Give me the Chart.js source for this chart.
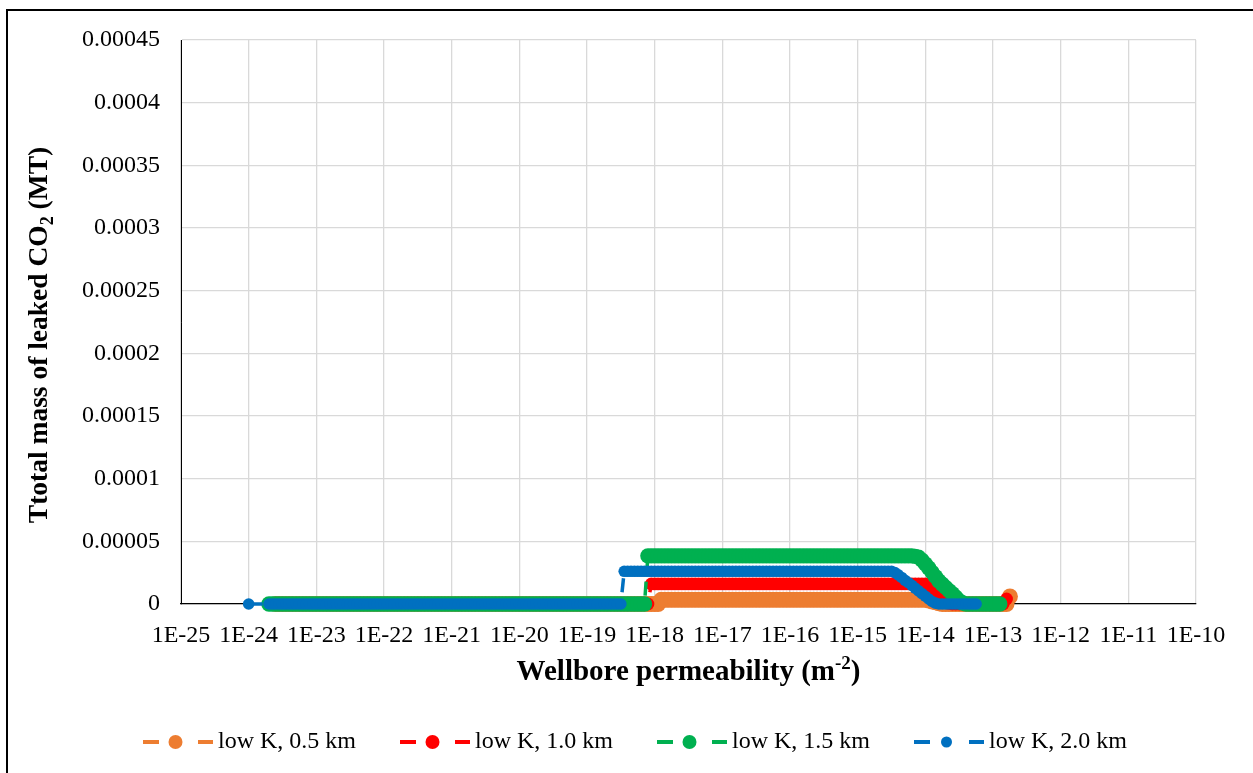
<!DOCTYPE html>
<html>
<head>
<meta charset="utf-8">
<script src="https://cdn.jsdelivr.net/npm/chart.js@4.4.1/dist/chart.umd.min.js"></script>
<style>
  html, body { margin: 0; padding: 0; background: #fff; overflow: hidden; width: 1253px; height: 773px; }
  #frame { position: absolute; left: 6px; top: 9px; width: 1263px; height: 772px; border: 2px solid #000; background: #fff; }
  #frame canvas { display: block; }
</style>
</head>
<body>
<div id="frame"><canvas id="chart" width="1263" height="772"></canvas></div>
<script>
// Wellbore permeability sweep, as log10(k) in m^2 (one row per decade)
const logPermeability = [
  -24.00, -23.95, -23.90, -23.85, -23.80, -23.75, -23.70, -23.65, -23.60, -23.55, -23.50, -23.45, -23.40, -23.35, -23.30, -23.25, -23.20, -23.15, -23.10, -23.05,
  -23.00, -22.95, -22.90, -22.85, -22.80, -22.75, -22.70, -22.65, -22.60, -22.55, -22.50, -22.45, -22.40, -22.35, -22.30, -22.25, -22.20, -22.15, -22.10, -22.05,
  -22.00, -21.95, -21.90, -21.85, -21.80, -21.75, -21.70, -21.65, -21.60, -21.55, -21.50, -21.45, -21.40, -21.35, -21.30, -21.25, -21.20, -21.15, -21.10, -21.05,
  -21.00, -20.95, -20.90, -20.85, -20.80, -20.75, -20.70, -20.65, -20.60, -20.55, -20.50, -20.45, -20.40, -20.35, -20.30, -20.25, -20.20, -20.15, -20.10, -20.05,
  -20.00, -19.95, -19.90, -19.85, -19.80, -19.75, -19.70, -19.65, -19.60, -19.55, -19.50, -19.45, -19.40, -19.35, -19.30, -19.25, -19.20, -19.15, -19.10, -19.05,
  -19.00, -18.95, -18.90, -18.85, -18.80, -18.75, -18.70, -18.65, -18.60, -18.55, -18.50, -18.45, -18.40, -18.35, -18.30, -18.25, -18.20, -18.15, -18.10, -18.05,
  -18.00, -17.95, -17.90, -17.85, -17.80, -17.75, -17.70, -17.65, -17.60, -17.55, -17.50, -17.45, -17.40, -17.35, -17.30, -17.25, -17.20, -17.15, -17.10, -17.05,
  -17.00, -16.95, -16.90, -16.85, -16.80, -16.75, -16.70, -16.65, -16.60, -16.55, -16.50, -16.45, -16.40, -16.35, -16.30, -16.25, -16.20, -16.15, -16.10, -16.05,
  -16.00, -15.95, -15.90, -15.85, -15.80, -15.75, -15.70, -15.65, -15.60, -15.55, -15.50, -15.45, -15.40, -15.35, -15.30, -15.25, -15.20, -15.15, -15.10, -15.05,
  -15.00, -14.95, -14.90, -14.85, -14.80, -14.75, -14.70, -14.65, -14.60, -14.55, -14.50, -14.45, -14.40, -14.35, -14.30, -14.25, -14.20, -14.15, -14.10, -14.05,
  -14.00, -13.95, -13.90, -13.85, -13.80, -13.75, -13.70, -13.65, -13.60, -13.55, -13.50, -13.45, -13.40, -13.35, -13.30, -13.25, -13.20, -13.15, -13.10, -13.05,
  -13.00, -12.95, -12.90, -12.85, -12.80, -12.75
];

// Total mass of leaked CO2 (MT), aligned with logPermeability (null = not simulated)
const mass05km = [
  null, null, null, null, null, null, null, null, 0, 0, 0, 0, 0, 0, 0, 0, 0, 0, 0, 0,
  0, 0, 0, 0, 0, 0, 0, 0, 0, 0, 0, 0, 0, 0, 0, 0, 0, 0, 0, 0,
  0, 0, 0, 0, 0, 0, 0, 0, 0, 0, 0, 0, 0, 0, 0, 0, 0, 0, 0, 0,
  0, 0, 0, 0, 0, 0, 0, 0, 0, 0, 0, 0, 0, 0, 0, 0, 0, 0, 0, 0,
  0, 0, 0, 0, 0, 0, 0, 0, 0, 0, 0, 0, 0, 0, 0, 0, 0, 0, 0, 0,
  0, 0, 0, 0, 0, 0, 0, 0, 0, 0, 0, 0, 0, 0, 0, 0, 0, 0, 0, 0,
  0, 0, 3.4e-6, 3.4e-6, 3.4e-6, 3.4e-6, 3.4e-6, 3.4e-6, 3.4e-6, 3.4e-6, 3.4e-6, 3.4e-6, 3.4e-6, 3.4e-6, 3.4e-6, 3.4e-6, 3.4e-6, 3.4e-6, 3.4e-6, 3.4e-6,
  3.4e-6, 3.4e-6, 3.4e-6, 3.4e-6, 3.4e-6, 3.4e-6, 3.4e-6, 3.4e-6, 3.4e-6, 3.4e-6, 3.4e-6, 3.4e-6, 3.4e-6, 3.4e-6, 3.4e-6, 3.4e-6, 3.4e-6, 3.4e-6, 3.4e-6, 3.4e-6,
  3.4e-6, 3.4e-6, 3.4e-6, 3.4e-6, 3.4e-6, 3.4e-6, 3.4e-6, 3.4e-6, 3.4e-6, 3.4e-6, 3.4e-6, 3.4e-6, 3.4e-6, 3.4e-6, 3.4e-6, 3.4e-6, 3.4e-6, 3.4e-6, 3.4e-6, 3.4e-6,
  3.4e-6, 3.4e-6, 3.4e-6, 3.4e-6, 3.4e-6, 3.4e-6, 3.4e-6, 3.4e-6, 3.4e-6, 3.4e-6, 3.4e-6, 3.4e-6, 3.4e-6, 3.4e-6, 3.4e-6, 3.4e-6, 3.4e-6, 3.4e-6, 3.4e-6, 3.4e-6,
  3.4e-6, 2.7e-6, 2.0e-6, 1.3e-6, 6e-7, 0, 0, 0, 0, 0, 0, 0, 0, 0, 0, 0, 0, 0, 0, 0,
  0, 0, 0, 0, 0, 6e-6
];

const mass10km = [
  null, null, null, null, null, null, null, null, 0, 0, 0, 0, 0, 0, 0, 0, 0, 0, 0, 0,
  0, 0, 0, 0, 0, 0, 0, 0, 0, 0, 0, 0, 0, 0, 0, 0, 0, 0, 0, 0,
  0, 0, 0, 0, 0, 0, 0, 0, 0, 0, 0, 0, 0, 0, 0, 0, 0, 0, 0, 0,
  0, 0, 0, 0, 0, 0, 0, 0, 0, 0, 0, 0, 0, 0, 0, 0, 0, 0, 0, 0,
  0, 0, 0, 0, 0, 0, 0, 0, 0, 0, 0, 0, 0, 0, 0, 0, 0, 0, 0, 0,
  0, 0, 0, 0, 0, 0, 0, 0, 0, 0, 0, 0, 0, 0, 0, 0, 0, 0, 0, 1.6e-5,
  1.6e-5, 1.6e-5, 1.6e-5, 1.6e-5, 1.6e-5, 1.6e-5, 1.6e-5, 1.6e-5, 1.6e-5, 1.6e-5, 1.6e-5, 1.6e-5, 1.6e-5, 1.6e-5, 1.6e-5, 1.6e-5, 1.6e-5, 1.6e-5, 1.6e-5, 1.6e-5,
  1.6e-5, 1.6e-5, 1.6e-5, 1.6e-5, 1.6e-5, 1.6e-5, 1.6e-5, 1.6e-5, 1.6e-5, 1.6e-5, 1.6e-5, 1.6e-5, 1.6e-5, 1.6e-5, 1.6e-5, 1.6e-5, 1.6e-5, 1.6e-5, 1.6e-5, 1.6e-5,
  1.6e-5, 1.6e-5, 1.6e-5, 1.6e-5, 1.6e-5, 1.6e-5, 1.6e-5, 1.6e-5, 1.6e-5, 1.6e-5, 1.6e-5, 1.6e-5, 1.6e-5, 1.6e-5, 1.6e-5, 1.6e-5, 1.6e-5, 1.6e-5, 1.6e-5, 1.6e-5,
  1.6e-5, 1.6e-5, 1.6e-5, 1.6e-5, 1.6e-5, 1.6e-5, 1.6e-5, 1.6e-5, 1.6e-5, 1.6e-5, 1.6e-5, 1.6e-5, 1.6e-5, 1.6e-5, 1.6e-5, 1.6e-5, 1.6e-5, 1.6e-5, 1.6e-5, 1.6e-5,
  1.6e-5, 1.33e-5, 1.05e-5, 8e-6, 5.5e-6, 3.4e-6, 1.6e-6, 5e-7, 0, 0, 0, 0, 0, 0, 0, 0, 0, 0, 0, 0,
  0, 0, 0, 0, 4e-6, null
];

const mass15km = [
  null, null, null, null, null, null, 0, 0, 0, 0, 0, 0, 0, 0, 0, 0, 0, 0, 0, 0,
  0, 0, 0, 0, 0, 0, 0, 0, 0, 0, 0, 0, 0, 0, 0, 0, 0, 0, 0, 0,
  0, 0, 0, 0, 0, 0, 0, 0, 0, 0, 0, 0, 0, 0, 0, 0, 0, 0, 0, 0,
  0, 0, 0, 0, 0, 0, 0, 0, 0, 0, 0, 0, 0, 0, 0, 0, 0, 0, 0, 0,
  0, 0, 0, 0, 0, 0, 0, 0, 0, 0, 0, 0, 0, 0, 0, 0, 0, 0, 0, 0,
  0, 0, 0, 0, 0, 0, 0, 0, 0, 0, 0, 0, 0, 0, 0, 0, 0, 0, 3.84e-5, 3.84e-5,
  3.84e-5, 3.84e-5, 3.84e-5, 3.84e-5, 3.84e-5, 3.84e-5, 3.84e-5, 3.84e-5, 3.84e-5, 3.84e-5, 3.84e-5, 3.84e-5, 3.84e-5, 3.84e-5, 3.84e-5, 3.84e-5, 3.84e-5, 3.84e-5, 3.84e-5, 3.84e-5,
  3.84e-5, 3.84e-5, 3.84e-5, 3.84e-5, 3.84e-5, 3.84e-5, 3.84e-5, 3.84e-5, 3.84e-5, 3.84e-5, 3.84e-5, 3.84e-5, 3.84e-5, 3.84e-5, 3.84e-5, 3.84e-5, 3.84e-5, 3.84e-5, 3.84e-5, 3.84e-5,
  3.84e-5, 3.84e-5, 3.84e-5, 3.84e-5, 3.84e-5, 3.84e-5, 3.84e-5, 3.84e-5, 3.84e-5, 3.84e-5, 3.84e-5, 3.84e-5, 3.84e-5, 3.84e-5, 3.84e-5, 3.84e-5, 3.84e-5, 3.84e-5, 3.84e-5, 3.84e-5,
  3.84e-5, 3.84e-5, 3.84e-5, 3.84e-5, 3.84e-5, 3.84e-5, 3.84e-5, 3.84e-5, 3.84e-5, 3.84e-5, 3.84e-5, 3.84e-5, 3.84e-5, 3.84e-5, 3.84e-5, 3.84e-5, 3.84e-5, 3.8e-5, 3.74e-5, 3.5e-5,
  3.2e-5, 2.87e-5, 2.52e-5, 2.18e-5, 1.84e-5, 1.58e-5, 1.33e-5, 1.07e-5, 8.2e-6, 5.4e-6, 2.6e-6, 8e-7, 0, 0, 0, 0, 0, 0, 0, 0,
  0, 0, 0, null, null, null
];

const mass20km = [
  0, null, null, null, null, null, 0, 0, 0, 0, 0, 0, 0, 0, 0, 0, 0, 0, 0, 0,
  0, 0, 0, 0, 0, 0, 0, 0, 0, 0, 0, 0, 0, 0, 0, 0, 0, 0, 0, 0,
  0, 0, 0, 0, 0, 0, 0, 0, 0, 0, 0, 0, 0, 0, 0, 0, 0, 0, 0, 0,
  0, 0, 0, 0, 0, 0, 0, 0, 0, 0, 0, 0, 0, 0, 0, 0, 0, 0, 0, 0,
  0, 0, 0, 0, 0, 0, 0, 0, 0, 0, 0, 0, 0, 0, 0, 0, 0, 0, 0, 0,
  0, 0, 0, 0, 0, 0, 0, 0, 0, 0, 0, 2.61e-5, 2.61e-5, 2.61e-5, 2.61e-5, 2.61e-5, 2.61e-5, 2.61e-5, 2.61e-5, 2.61e-5,
  2.61e-5, 2.61e-5, 2.61e-5, 2.61e-5, 2.61e-5, 2.61e-5, 2.61e-5, 2.61e-5, 2.61e-5, 2.61e-5, 2.61e-5, 2.61e-5, 2.61e-5, 2.61e-5, 2.61e-5, 2.61e-5, 2.61e-5, 2.61e-5, 2.61e-5, 2.61e-5,
  2.61e-5, 2.61e-5, 2.61e-5, 2.61e-5, 2.61e-5, 2.61e-5, 2.61e-5, 2.61e-5, 2.61e-5, 2.61e-5, 2.61e-5, 2.61e-5, 2.61e-5, 2.61e-5, 2.61e-5, 2.61e-5, 2.61e-5, 2.61e-5, 2.61e-5, 2.61e-5,
  2.61e-5, 2.61e-5, 2.61e-5, 2.61e-5, 2.61e-5, 2.61e-5, 2.61e-5, 2.61e-5, 2.61e-5, 2.61e-5, 2.61e-5, 2.61e-5, 2.61e-5, 2.61e-5, 2.61e-5, 2.61e-5, 2.61e-5, 2.61e-5, 2.61e-5, 2.61e-5,
  2.61e-5, 2.61e-5, 2.61e-5, 2.61e-5, 2.61e-5, 2.61e-5, 2.61e-5, 2.61e-5, 2.61e-5, 2.61e-5, 2.61e-5, 2.5e-5, 2.33e-5, 2.12e-5, 1.89e-5, 1.7e-5, 1.49e-5, 1.27e-5, 1.05e-5, 8.3e-6,
  6.2e-6, 4e-6, 2e-6, 7e-7, 0, 0, 0, 0, 0, 0, 0, 0, 0, 0, 0, 0, null, null, null, null,
  null, null, null, null, null, null
];

const seriesNames = ['low K, 0.5 km', 'low K, 1.0 km', 'low K, 1.5 km', 'low K, 2.0 km'];
const seriesColors = ['#ED7D31', '#FF0000', '#00B050', '#0070C0'];

// Axis ticks
const xTickExponents = [-25, -24, -23, -22, -21, -20, -19, -18, -17, -16, -15, -14, -13, -12, -11, -10];
const xTickLabels = ['1E-25', '1E-24', '1E-23', '1E-22', '1E-21', '1E-20', '1E-19', '1E-18',
                     '1E-17', '1E-16', '1E-15', '1E-14', '1E-13', '1E-12', '1E-11', '1E-10'];
const yTickValues = [0, 0.00005, 0.0001, 0.00015, 0.0002, 0.00025, 0.0003, 0.00035, 0.0004, 0.00045];
const yTickLabels = ['0', '0.00005', '0.0001', '0.00015', '0.0002', '0.00025', '0.0003', '0.00035', '0.0004', '0.00045'];

const xTitleParts = [['Wellbore permeability (m', 'normal'], ['-2', 'sup'], [')', 'normal']];
const yTitleParts = [['Ttotal mass of leaked CO', 'normal'], ['2', 'sub'], [' (MT)', 'normal']];

const FONT = '"Liberation Serif", "Times New Roman", serif';
const markerRadius = [8, 6.4, 7.7, 5.8];
const legendMarkerRadius = [7, 7, 7, 5.5];

function toPoints(values) {
  return logPermeability.map((e, i) => ({ x: Math.pow(10, e), y: values[i] }));
}

// Legend swatch: dashed line with a marker in the middle
function legendSwatch(color, r) {
  const c = document.createElement('canvas');
  c.width = 72; c.height = 20;
  const g = c.getContext('2d');
  g.strokeStyle = color;
  g.lineWidth = 4;
  g.beginPath();
  g.moveTo(0, 10); g.lineTo(16, 10);
  g.moveTo(55, 10); g.lineTo(70, 10);
  g.stroke();
  g.fillStyle = color;
  g.beginPath();
  g.arc(32.5, 10, r, 0, Math.PI * 2);
  g.fill();
  return c;
}
const swatches = seriesColors.map((c, i) => legendSwatch(c, legendMarkerRadius[i]));

function drawRich(ctx, parts, cx, baseline, big, small, supShift, subShift) {
  let total = 0;
  const items = parts.map(([text, kind]) => {
    const size = kind === 'normal' ? big : small;
    ctx.font = 'bold ' + size + 'px ' + FONT;
    const w = ctx.measureText(text).width;
    total += w;
    return { text, size, w, dy: kind === 'sup' ? supShift : (kind === 'sub' ? subShift : 0) };
  });
  let x = cx - total / 2;
  ctx.textAlign = 'left';
  ctx.textBaseline = 'alphabetic';
  items.forEach(it => {
    ctx.font = 'bold ' + it.size + 'px ' + FONT;
    ctx.fillText(it.text, x, baseline + it.dy);
    x += it.w;
  });
}

// Axis titles with super/subscripts
const axisTitles = {
  id: 'axisTitles',
  afterDraw(chart) {
    const { ctx, chartArea } = chart;
    ctx.save();
    ctx.fillStyle = '#000';
    drawRich(ctx, xTitleParts, (chartArea.left + chartArea.right) / 2, 669, 29, 19, -11, 0);
    ctx.translate(39, 324);
    ctx.rotate(-Math.PI / 2);
    drawRich(ctx, yTitleParts, 0, 0, 27.5, 18, 0, 6);
    ctx.restore();
  }
};

const seriesValues = [mass05km, mass10km, mass15km, mass20km];
const datasets = seriesValues.map((vals, i) => ({
  label: seriesNames[i],
  data: toPoints(vals),
  borderColor: seriesColors[i],
  backgroundColor: seriesColors[i],
  borderWidth: 3.5,
  borderDash: [14, 10],
  pointRadius: markerRadius[i],
  pointHoverRadius: markerRadius[i],
  pointBorderWidth: 0,
  pointBackgroundColor: seriesColors[i],
  spanGaps: true,
  clip: false,
  order: 4 - i
}));

new Chart(document.getElementById('chart'), {
  type: 'line',
  data: { datasets },
  plugins: [axisTitles],
  options: {
    responsive: false,
    animation: false,
    events: [],
    layout: { padding: { top: 29, left: 0, right: 0, bottom: 19 } },
    plugins: {
      tooltip: { enabled: false },
      title: { display: false },
      legend: {
        position: 'bottom',
        labels: {
          usePointStyle: true,
          pointStyleWidth: 54,
          padding: 53,
          color: '#000',
          font: { family: FONT, size: 24 },
          sort: (a, b) => a.datasetIndex - b.datasetIndex,
          generateLabels(chart) {
            const items = Chart.defaults.plugins.legend.labels.generateLabels(chart);
            items.forEach(it => { it.pointStyle = swatches[it.datasetIndex]; });
            return items;
          }
        }
      }
    },
    scales: {
      x: {
        type: 'logarithmic',
        position: 'bottom',
        min: 1e-25,
        max: 1e-10,
        afterBuildTicks(scale) {
          scale.ticks = xTickExponents.map(e => ({ value: Math.pow(10, e) }));
        },
        afterFit(scale) { scale.height = 73; },
        ticks: {
          autoSkip: false,
          maxRotation: 0,
          minRotation: 0,
          padding: 17,
          color: '#000',
          font: { family: FONT, size: 24 },
          callback: (v, i) => xTickLabels[i]
        },
        grid: { color: '#d9d9d9', lineWidth: 1.3, drawTicks: false },
        border: { display: true, color: '#000', width: 1.3 }
      },
      y: {
        type: 'linear',
        position: 'left',
        min: 0,
        max: 0.00045,
        afterBuildTicks(scale) {
          scale.ticks = yTickValues.map(v => ({ value: v }));
        },
        afterFit(scale) {
          scale.width = 173;
          scale.paddingTop = 0;
          scale.paddingBottom = 0;
        },
        ticks: {
          padding: 21,
          color: '#000',
          font: { family: FONT, size: 24 },
          callback: (v, i) => yTickLabels[i]
        },
        grid: { color: '#d9d9d9', lineWidth: 1.3, drawTicks: false },
        border: { display: true, color: '#000', width: 1 }
      },
      yPad: {
        type: 'linear',
        position: 'right',
        display: true,
        grid: { display: false, drawTicks: false },
        ticks: { display: false },
        border: { display: false },
        afterFit(scale) { scale.width = 75; }
      }
    }
  }
});
</script>
</body>
</html>
